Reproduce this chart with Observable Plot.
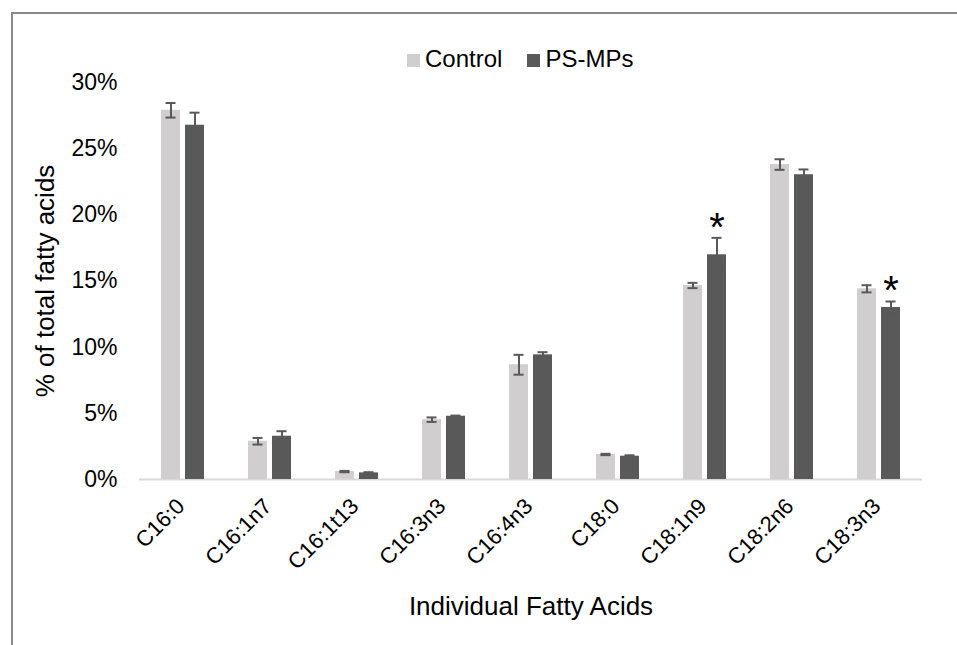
<!DOCTYPE html>
<html>
<head>
<meta charset="utf-8">
<script src="https://cdn.jsdelivr.net/npm/d3@7"></script>
<script src="https://cdn.jsdelivr.net/npm/@observablehq/plot@0.6"></script>
<style>
  html, body { margin: 0; padding: 0; background: #fff; width: 957px; height: 645px; overflow: hidden; }
  #wrap { position: relative; width: 957px; height: 645px; }
  #frame { position: absolute; left: 11px; top: 12px; width: 2000px; height: 2000px; border: 2px solid #8a8a8a; }
  #chart { position: absolute; left: 0; top: 0; }
  #legend { position: absolute; left: 407px; top: 47px; font-family: "Liberation Sans", Arial, sans-serif; font-size: 24px; line-height: 24px; color: #000; white-space: nowrap; }
  .sw { display: inline-block; width: 13px; height: 13px; margin-right: 5px; vertical-align: baseline; }
  .item { display: inline-block; margin-right: 25px; }
</style>
</head>
<body>
<div id="wrap">
  <div id="frame"></div>
  <div id="chart"></div>
  <div id="legend"></div>
</div>
<script>
const categories = ["C16:0", "C16:1n7", "C16:1t13", "C16:3n3", "C16:4n3", "C18:0", "C18:1n9", "C18:2n6", "C18:3n3"];
const groups = ["Control", "PS-MPs"];
const controlMean = [27.9, 2.89, 0.6, 4.52, 8.67, 1.89, 14.66, 23.8, 14.41];
const controlErr  = [0.55, 0.25, 0.05, 0.17, 0.75, 0.05, 0.2, 0.4, 0.27];
const psMean      = [26.77, 3.27, 0.5, 4.78, 9.42, 1.76, 16.98, 23.03, 13.0];
const psErr       = [0.95, 0.38, 0.05, 0.05, 0.2, 0.07, 1.28, 0.4, 0.45];
const significantPS = ["C18:1n9", "C18:3n3"];
const yTicks = [0, 5, 10, 15, 20, 25, 30];
const colors = ["#d0cece", "#595959"];

const rows = [];
categories.forEach((c, i) => {
  rows.push({cat: c, group: "Control", mean: controlMean[i], lo: controlMean[i] - controlErr[i], hi: controlMean[i] + controlErr[i]});
  rows.push({cat: c, group: "PS-MPs", mean: psMean[i], lo: psMean[i] - psErr[i], hi: psMean[i] + psErr[i]});
});
const sigRows = rows.filter(d => d.group === "PS-MPs" && significantPS.includes(d.cat));

const chart = Plot.plot({
  width: 957,
  height: 645,
  marginLeft: 137,
  marginRight: 33,
  marginTop: 82,
  marginBottom: 166,
  style: {fontFamily: "'Liberation Sans', Arial, sans-serif", color: "#000", background: "transparent", overflow: "visible"},
  fx: {domain: categories, padding: 0},
  x: {domain: groups, paddingInner: 0.2, paddingOuter: 0.85, axis: null},
  y: {domain: [0, 30]},
  color: {domain: groups, range: colors},
  marks: [
    Plot.axisY({ticks: yTicks, tickFormat: d => d + "%", tickSize: 0, tickPadding: 22, fontSize: 23,
      label: "% of total fatty acids", labelAnchor: "center", labelArrow: "none", labelOffset: 104}),
    Plot.axisFx({anchor: "bottom", tickRotate: -45, tickSize: 0, tickPadding: 23, fontSize: 22, dx: -2,
      label: "Individual Fatty Acids", labelAnchor: "center", labelArrow: "none", labelOffset: 135}),
    Plot.ruleY([0], {stroke: "#d9d9d9", strokeWidth: 2}),
    Plot.barY(rows, {fx: "cat", x: "group", y: "mean", fill: "group"}),
    Plot.ruleX(rows, {fx: "cat", x: "group", y1: "lo", y2: "hi", stroke: "#595959", strokeWidth: 2}),
    Plot.tickY(rows, {fx: "cat", x: "group", y: "lo", stroke: "#595959", strokeWidth: 2, insetLeft: 4.5, insetRight: 4.5}),
    Plot.tickY(rows, {fx: "cat", x: "group", y: "hi", stroke: "#595959", strokeWidth: 2, insetLeft: 4.5, insetRight: 4.5}),
    Plot.text(sigRows, {fx: "cat", x: "group", y: "hi", text: () => "*", fontSize: 40, dy: -10, fill: "#000"})
  ]
});
chart.querySelectorAll("g[aria-label='y-axis label'] text, g[aria-label='fx-axis label'] text").forEach(t => t.setAttribute("font-size", "26"));
document.getElementById("chart").appendChild(chart);

const legend = document.getElementById("legend");
groups.forEach((g, i) => {
  const item = document.createElement("span");
  item.className = "item";
  const sw = document.createElement("span");
  sw.className = "sw";
  sw.style.background = colors[i];
  item.appendChild(sw);
  item.appendChild(document.createTextNode(g));
  legend.appendChild(item);
});
</script>
</body>
</html>
